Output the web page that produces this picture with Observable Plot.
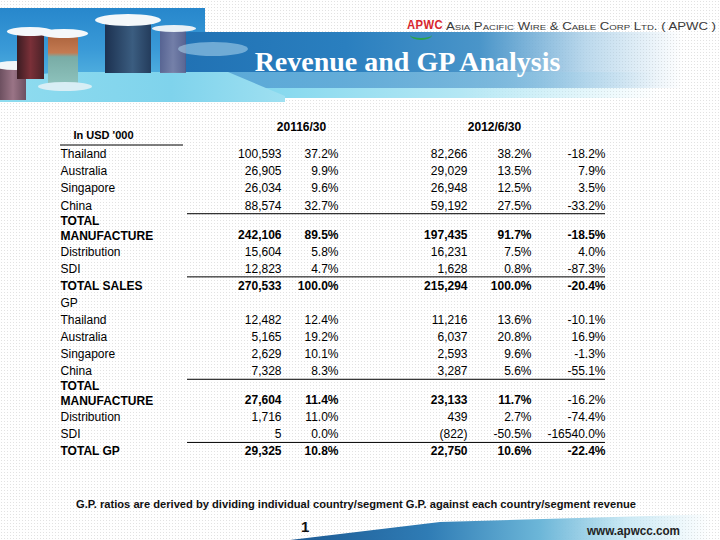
<!DOCTYPE html>
<html>
<head>
<meta charset="utf-8">
<script src="https://cdn.jsdelivr.net/npm/d3@7"></script>
<script src="https://cdn.jsdelivr.net/npm/@observablehq/plot@0.6"></script>
<style>
html,body{margin:0;padding:0;background:#fff;}
#page{position:relative;width:720px;height:540px;overflow:hidden;background-color:#fff;
  background-image:radial-gradient(circle,#e2e2e2 0.75px,transparent 0.9px);background-size:3px 3px;
  font-family:"Liberation Sans",Arial,sans-serif;}
.abs{position:absolute;}
.fit{white-space:nowrap;display:inline-block;transform-origin:left center;}
.flange{position:absolute;border-radius:50%;}
#chart{position:absolute;left:0;top:0;}
</style>
</head>
<body>
<div id="page">
  <!-- banner -->
  <div class="abs" style="left:0;top:8px;width:205px;height:92px;background:linear-gradient(to bottom,#2787cc 0%,#3a9ad7 45%,#63c1e6 100%)"></div>
  <div class="abs" style="left:185px;top:32px;width:535px;height:56px;background:linear-gradient(to right,#2172b4 0%,#2a7fbf 30%,#4a95c9 55%,rgba(165,204,230,0.75) 75%,rgba(255,255,255,0) 93%)"></div>
  <div class="abs" style="left:185px;top:72px;width:535px;height:16px;background:linear-gradient(to right,rgba(95,175,220,0.9),rgba(150,205,232,0.6) 55%,rgba(255,255,255,0) 88%)"></div>
  <div class="abs" style="left:200px;top:88px;width:520px;height:10px;background:linear-gradient(to right,#74d3ec,#b4e7f4 50%,rgba(255,255,255,0) 88%)"></div>
  <div class="abs" style="left:0;top:72px;width:285px;height:30px;clip-path:polygon(22% 0,80% 0,100% 80%,100% 100%,0 100%,0 20%);background:linear-gradient(to right,#8fdcef,#7fd3ec 60%,#9fe0f1)"></div>
  <!-- spools -->
  <div class="abs" style="left:0;top:66px;width:26px;height:34px;background:linear-gradient(to right,#6d5060,#9a7486,#6d5060)"></div>
  <div class="flange" style="left:-6px;top:61px;width:42px;height:9px;background:#f2f6f8"></div>
  <div class="abs" style="left:17px;top:33px;width:27px;height:46px;background:linear-gradient(to right,#3a1c22,#7a3038,#4a2228)"></div>
  <div class="flange" style="left:7px;top:27px;width:46px;height:9px;background:#f4f8fa"></div>
  <div class="abs" style="left:48px;top:33px;width:30px;height:52px;background:linear-gradient(to bottom,#a9603a 0%,#c47b52 38%,#79aca6 46%,#8ec3bd 100%)"></div>
  <div class="flange" style="left:40px;top:29px;width:48px;height:9px;background:#f4f8fa"></div>
  <div class="flange" style="left:38px;top:82px;width:54px;height:9px;background:#d8eef5"></div>
  <div class="abs" style="left:105px;top:23px;width:46px;height:50px;background:linear-gradient(to right,#1c3150,#3b5d80 60%,#243c5c)"></div>
  <div class="flange" style="left:95px;top:14px;width:66px;height:12px;background:#f4f8fa"></div>
  <div class="abs" style="left:160px;top:28px;width:26px;height:45px;background:linear-gradient(to right,#5c5a86,#7d7aa0,#5c5a86);opacity:.85"></div>
  <div class="flange" style="left:152px;top:25px;width:44px;height:7px;background:#e8f0f6"></div>
  <div class="flange" style="left:178px;top:42px;width:70px;height:14px;background:rgba(175,215,238,0.55)"></div>

  <div class="abs" style="left:0;top:48px;width:815px;text-align:center;font-family:'Liberation Serif','Times New Roman',serif;font-weight:bold;font-size:28px;line-height:28px;color:#fff">Revenue and GP Analysis</div>

  <div class="abs" style="left:407px;top:15px"><span id="logo" class="fit" style="font-weight:bold;font-size:13px;color:#d8262d;letter-spacing:0.5px">APWC</span></div>
  <div class="abs" style="left:410px;top:30px;width:22px;height:8px;border-bottom:2px solid #2aa34a;border-radius:0 0 50% 50%"></div>
  <div class="abs" style="left:446px;top:16px"><span id="corp" class="fit" style="font-size:11px;font-variant:small-caps;color:#3a3a3a">Asia Pacific Wire &amp; Cable Corp Ltd. ( APWC )</span></div>

  <!-- footer -->
  <div class="abs" style="left:290px;top:510px;width:430px;height:30px;clip-path:polygon(0px 30px,150px 12px,430px 4px,430px 30px);background:linear-gradient(to right,#1d5a93 0%,#2f7cb5 32%,#6cb6d8 58%,rgba(190,228,242,0.8) 78%,rgba(255,255,255,0) 98%)"></div>
  <div class="abs" style="left:76px;top:494px"><span id="note" class="fit" style="font-weight:bold;font-size:11px;color:#111">G.P. ratios are derived by dividing individual country/segment G.P. against each country/segment revenue</span></div>
  <div class="abs" style="left:301px;top:518px;font-weight:bold;font-size:15px;color:#111">1</div>
  <div class="abs" style="left:587px;top:521px"><span id="web" class="fit" style="font-weight:bold;font-size:12px;color:#222">www.apwcc.com</span></div>

  <div id="chart"></div>
</div>
<script>
// ---- data ----
const revLabels = ["Thailand", "Australia", "Singapore", "China", "TOTAL\nMANUFACTURE", "Distribution", "SDI", "TOTAL SALES"];
const revenue2011 = [100593, 26905, 26034, 88574, 242106, 15604, 12823, 270533];
const revenueShare2011 = [37.2, 9.9, 9.6, 32.7, 89.5, 5.8, 4.7, 100.0];
const revenue2012 = [82266, 29029, 26948, 59192, 197435, 16231, 1628, 215294];
const revenueShare2012 = [38.2, 13.5, 12.5, 27.5, 91.7, 7.5, 0.8, 100.0];
const revenueChange = [-18.2, 7.9, 3.5, -33.2, -18.5, 4.0, -87.3, -20.4];

const gpLabels = ["Thailand", "Australia", "Singapore", "China", "TOTAL\nMANUFACTURE", "Distribution", "SDI", "TOTAL GP"];
const gp2011 = [12482, 5165, 2629, 7328, 27604, 1716, 5, 29325];
const gpRatio2011 = [12.4, 19.2, 10.1, 8.3, 11.4, 11.0, 0.0, 10.8];
const gp2012 = [11216, 6037, 2593, 3287, 23133, 439, -822, 22750];
const gpRatio2012 = [13.6, 20.8, 9.6, 5.6, 11.7, 2.7, -50.5, 10.6];
const gpChange = [-10.1, 16.9, -1.3, -55.1, -16.2, -74.4, -16540.0, -22.4];

const periods = ["20116/30", "2012/6/30"];
const unitLabel = "In USD '000";
const gpSectionLabel = "GP";
const underlinedRows = ["China", "SDI"];

// ---- layout (style) ----
const colKeys = ["v1", "p1", "v2", "p2", "chg"];
const colKinds = ["num", "pct", "num", "pct", "pct"];
const colRight = {v1: 281, p1: 338, v2: 467, p2: 531, chg: 605};
const periodCenter = [301, 494];
const labelX = 60;
const ruleX = [187, 605];
const twoLineStep = 1.7;

const locale = d3.formatLocale({decimal: ".", thousands: ",", grouping: [3], currency: ["$", ""], minus: "-"});
const fmtNum = v => v < 0 ? "(" + locale.format(",")(-v) + ")" : locale.format(",")(v);
const fmtPct = v => locale.format(".1f")(v) + "%";

const sections = [
  {key: "rev", header: null, labels: revLabels, cols: [revenue2011, revenueShare2011, revenue2012, revenueShare2012, revenueChange]},
  {key: "gp", header: gpSectionLabel, labels: gpLabels, cols: [gp2011, gpRatio2011, gp2012, gpRatio2012, gpChange]}
];

const rows = [], cells = [];
let u = null;
for (const s of sections) {
  if (s.header) { u = u === null ? 0 : u + 1; rows.push({label: s.header, u, bold: false, lines: 1, underline: false}); }
  s.labels.forEach((label, i) => {
    const lines = label.split("\n").length;
    u = u === null ? 0 : u + (lines > 1 ? twoLineStep : 1);
    const bold = label.startsWith("TOTAL");
    rows.push({label, u, bold, lines, underline: underlinedRows.includes(label)});
    s.cols.forEach((col, j) => {
      const key = colKeys[j];
      const b = bold && !(s.key === "gp" && lines > 1 && key === "chg");
      cells.push({u, col: key, text: colKinds[j] === "num" ? fmtNum(col[i]) : fmtPct(col[i]), bold: b});
    });
  });
}
const uMax = u;
const yTop = 154, yBottom = 451;
const pxPerU = (yBottom - yTop) / uMax;
const toU = px => (px - yTop) / pxPerU;

const txt = {fill: "#000", fontSize: 12};
const plot = Plot.plot({
  width: 720, height: 540, margin: 0,
  x: {type: "identity", axis: null},
  y: {type: "linear", domain: [0, uMax], range: [yTop, yBottom], axis: null},
  style: {background: "transparent", fontFamily: "'Liberation Sans', Arial, sans-serif", color: "#000"},
  marks: [
    Plot.text(periods, {x: (d, i) => periodCenter[i], y: toU(127), text: d => d, fontWeight: "bold", ...txt, ariaLabel: "period"}),
    Plot.text([unitLabel], {x: 73, y: toU(135), text: d => d, textAnchor: "start", fontWeight: "bold", fill: "#000", fontSize: 11}),
    Plot.ruleY([toU(144.5)], {x1: 60, x2: 183, stroke: "#000", strokeWidth: 1}),
    Plot.text(rows.filter(r => r.lines === 1 && !r.bold), {x: labelX, y: "u", text: "label", textAnchor: "start", ...txt}),
    Plot.text(rows.filter(r => r.lines === 1 && r.bold), {x: labelX, y: "u", text: "label", textAnchor: "start", fontWeight: "bold", ...txt}),
    Plot.text(rows.filter(r => r.lines > 1), {x: labelX, y: "u", text: "label", textAnchor: "start", lineHeight: 1.25, dy: -7.5, fontWeight: "bold", ...txt}),
    Plot.text(cells.filter(c => !c.bold), {x: d => colRight[d.col], y: "u", text: "text", textAnchor: "end", ...txt}),
    Plot.text(cells.filter(c => c.bold), {x: d => colRight[d.col], y: "u", text: "text", textAnchor: "end", fontWeight: "bold", ...txt}),
    Plot.ruleY(rows.filter(r => r.underline), {y: "u", dy: 8, x1: ruleX[0], x2: ruleX[1], stroke: "#000", strokeWidth: 1})
  ]
});
d3.select(plot).selectAll('g[aria-label="period"] text').style("text-decoration", "underline");
document.getElementById("chart").appendChild(plot);

function fit(id, w) {
  const el = document.getElementById(id);
  const r = el.getBoundingClientRect().width;
  if (r > 0) el.style.transform = `scaleX(${w / r})`;
}
fit("note", 560);
fit("corp", 270);
fit("logo", 36);
fit("web", 93);
</script>
</body>
</html>
